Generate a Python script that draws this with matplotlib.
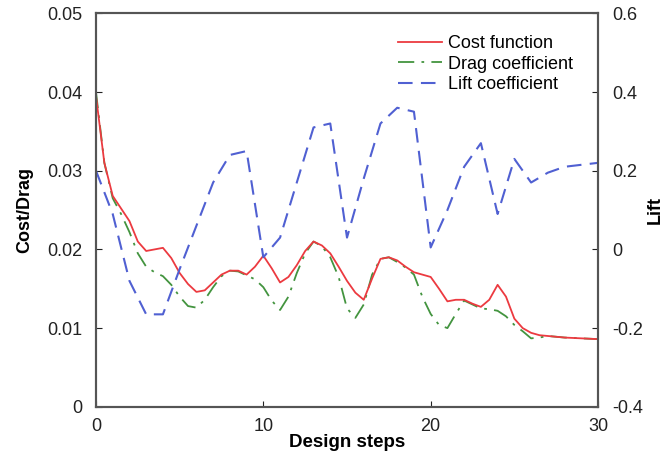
import matplotlib
matplotlib.use("Agg")
import matplotlib.pyplot as plt
from matplotlib.ticker import FuncFormatter

plt.rcParams['font.family'] = ['Liberation Sans', 'DejaVu Sans']

# Data
steps_half = [i * 0.5 for i in range(0, 55)] + [28, 29, 30]
cost = [0.0395, 0.031, 0.0268, 0.0252, 0.0236, 0.021, 0.0198, 0.0200, 0.0202, 0.0189,
        0.0170, 0.0156, 0.0146, 0.0148, 0.0158, 0.0168, 0.0173, 0.0173, 0.0168, 0.0178,
        0.0192, 0.0176, 0.0158, 0.0165, 0.0180, 0.0198, 0.0210, 0.0205, 0.0195, 0.0178,
        0.0160, 0.0145, 0.0136, 0.0163, 0.0188, 0.0190, 0.0186, 0.0178, 0.0171, 0.0168,
        0.0165, 0.0150, 0.0134, 0.0136, 0.0136, 0.0131, 0.0127, 0.0136, 0.0155, 0.0140,
        0.0112, 0.0100, 0.0094, 0.0091, 0.0090, 0.0088, 0.0087, 0.0086]
drag = [0.0400, 0.031, 0.0265, 0.0245, 0.0222, 0.0195, 0.0178, 0.0171, 0.0166, 0.0155,
        0.0140, 0.0128, 0.0126, 0.0136, 0.0152, 0.0166, 0.0173, 0.0172, 0.0167, 0.0162,
        0.0152, 0.0135, 0.0123, 0.0140, 0.0170, 0.0195, 0.0210, 0.0204, 0.0190, 0.0165,
        0.0125, 0.0113, 0.0130, 0.0168, 0.0188, 0.0190, 0.0184, 0.0177, 0.0168, 0.0140,
        0.0118, 0.0104, 0.0100, 0.0118, 0.0135, 0.0130, 0.0125, 0.0124, 0.0122, 0.0115,
        0.0104, 0.0096, 0.0087, 0.0088, 0.0090, 0.0088, 0.0087, 0.0086]
steps_int = list(range(0, 31))
lift = [0.20, 0.09, -0.08, -0.165, -0.165, -0.05, 0.06, 0.17, 0.24, 0.25,
        -0.02, 0.03, 0.17, 0.31, 0.32, 0.03, 0.18, 0.32, 0.36, 0.35,
        0.005, 0.10, 0.21, 0.27, 0.09, 0.23, 0.17, 0.195, 0.21, 0.215, 0.22]

left_ticks = [0, 0.01, 0.02, 0.03, 0.04, 0.05]
right_ticks = [-0.4, -0.2, 0, 0.2, 0.4, 0.6]
x_ticks = [0, 10, 20, 30]

fig = plt.figure(figsize=(6.67, 4.59), dpi=100)
ax = fig.add_axes([0.1439, 0.1137, 0.7527, 0.8573])
ax2 = ax.twinx()

red = '#ec3a40'
green = '#43943f'
blue = '#5060d2'

l1, = ax.plot(steps_half, cost, color=red, lw=1.3, label='Cost function', zorder=3)
l2, = ax.plot(steps_half, drag, color=green, lw=1.3, dashes=[9, 4, 1.5, 4], label='Drag coefficient', zorder=2)
l3, = ax2.plot(steps_int, lift, color=blue, lw=1.5, dashes=[7, 4], label='Lift coefficient')

ax.set_xlim(0, 30)
ax.set_ylim(0, 0.05)
ax2.set_ylim(-0.4, 0.6)
ax.set_xticks(x_ticks)
ax.set_yticks(left_ticks)
ax2.set_yticks(right_ticks)

def fmt(v, pos):
    s = f"{v:.2f}".rstrip('0').rstrip('.')
    if s in ('-0', ''):
        s = '0'
    return s

ax.yaxis.set_major_formatter(FuncFormatter(fmt))
ax2.yaxis.set_major_formatter(FuncFormatter(fmt))

for a in (ax, ax2):
    a.tick_params(direction='in', length=4, width=0.8, labelsize=13, colors='#222222', pad=10)
    for sp in a.spines.values():
        sp.set_linewidth(1.5)
        sp.set_color('#555555')
ax.tick_params(axis='x', pad=8)

ax.set_xlabel('Design steps', fontsize=13.5, fontweight='bold', labelpad=-1)
ax.set_ylabel('Cost/Drag', fontsize=13, fontweight='bold', labelpad=10)
ax2.set_ylabel('Lift', fontsize=13, fontweight='bold', labelpad=3)

ax.legend(handles=[l1, l2, l3], loc='upper right', frameon=False, fontsize=13,
          handlelength=2.4, handletextpad=0.35, labelspacing=0.2,
          bbox_to_anchor=(0.975, 0.977), borderaxespad=0.3)

fig.savefig('out.png', dpi=100)
